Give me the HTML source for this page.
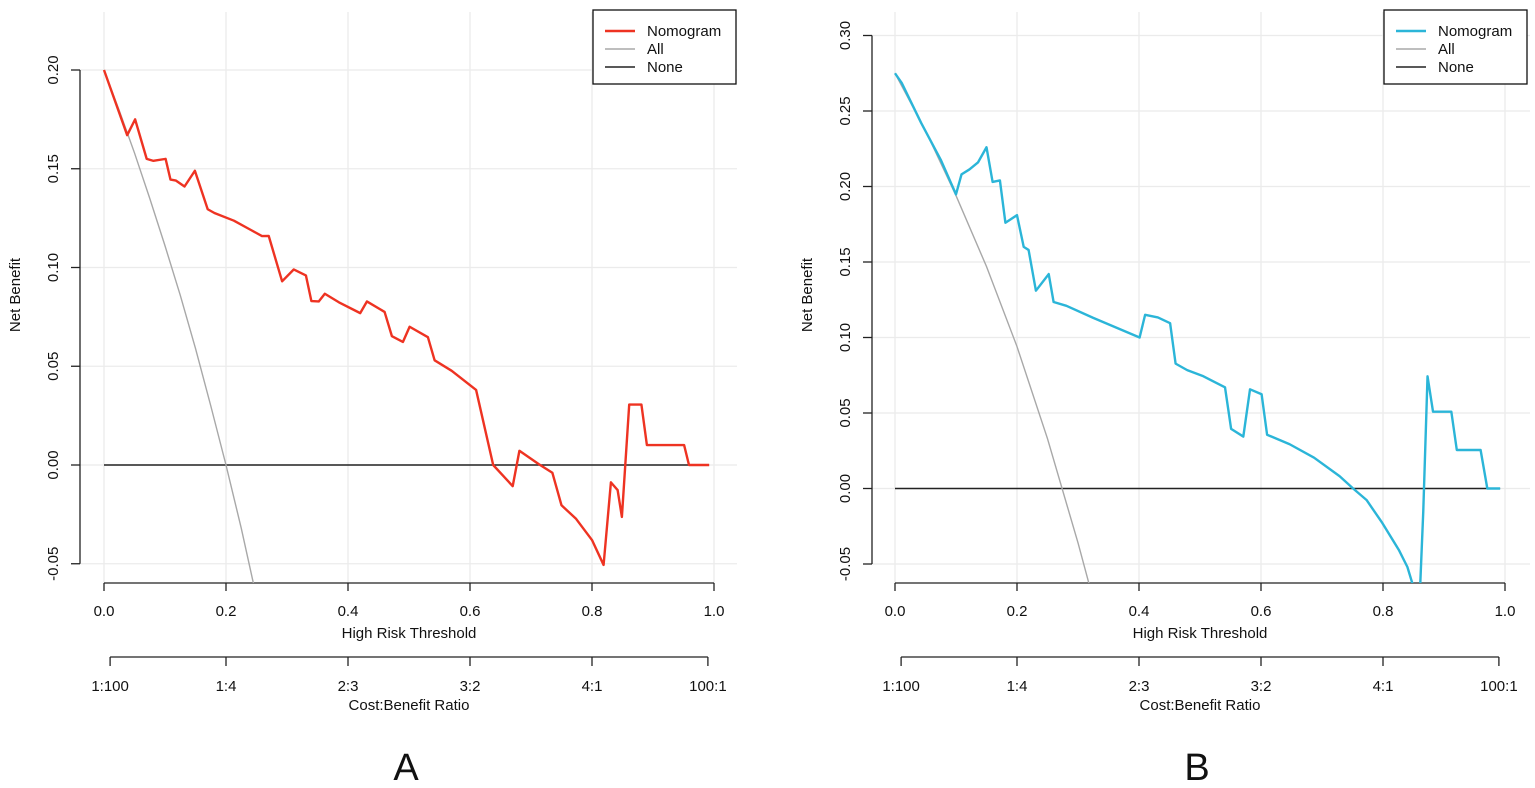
<!DOCTYPE html>
<html><head><meta charset="utf-8">
<style>
html,body{margin:0;padding:0;background:#fff;}
svg{display:block;font-family:"Liberation Sans",Arial,sans-serif;}
</style></head>
<body>
<svg id="chart" width="1535" height="788" viewBox="0 0 1535 788" xmlns="http://www.w3.org/2000/svg"></svg>
<script>
// ---------- Data ----------
const xTicks = [0, 0.2, 0.4, 0.6, 0.8, 1.0];
const xTickLabels = ["0.0", "0.2", "0.4", "0.6", "0.8", "1.0"];
const cbTicks = [0.01, 0.2, 0.4, 0.6, 0.8, 0.99];
const cbLabels = ["1:100", "1:4", "2:3", "3:2", "4:1", "100:1"];

const yTicksA = [-0.05, 0, 0.05, 0.10, 0.15, 0.20];
const yTickLabelsA = ["-0.05", "0.00", "0.05", "0.10", "0.15", "0.20"];
const yTicksB = [-0.05, 0, 0.05, 0.10, 0.15, 0.20, 0.25, 0.30];
const yTickLabelsB = ["-0.05", "0.00", "0.05", "0.10", "0.15", "0.20", "0.25", "0.30"];

const nomoThreshA = [0,0.038,0.051,0.07,0.081,0.101,0.109,0.118,0.132,0.149,0.170,0.181,0.213,0.242,0.259,0.27,0.292,0.311,0.331,0.340,0.352,0.362,0.385,0.420,0.431,0.460,0.472,0.490,0.501,0.531,0.542,0.570,0.610,0.638,0.670,0.681,0.713,0.735,0.75,0.774,0.80,0.819,0.831,0.842,0.849,0.861,0.881,0.890,0.951,0.959,0.992];
const nomoValA = [0.2,0.167,0.175,0.155,0.154,0.155,0.1445,0.144,0.141,0.149,0.1295,0.1276,0.1237,0.1188,0.1159,0.116,0.093,0.099,0.096,0.083,0.0828,0.0867,0.0824,0.0769,0.0828,0.0775,0.0652,0.0623,0.070,0.0647,0.053,0.0477,0.038,0,-0.0107,0.0072,0.0004,-0.0039,-0.0204,-0.0273,-0.038,-0.0506,-0.0088,-0.0127,-0.0263,0.0306,0.0306,0.0101,0.0101,0,0];
const allThreshA = [0,0.025,0.05,0.075,0.1,0.125,0.15,0.175,0.2,0.225,0.25];
const allValA = [0.2,0.1795,0.158,0.135,0.111,0.086,0.059,0.030,0,-0.032,-0.067];

const nomoThreshB = [0,0.011,0.043,0.075,0.1,0.109,0.122,0.136,0.150,0.160,0.172,0.181,0.2,0.211,0.219,0.231,0.252,0.260,0.281,0.325,0.401,0.410,0.431,0.451,0.46,0.479,0.504,0.541,0.551,0.571,0.582,0.601,0.61,0.647,0.687,0.729,0.751,0.773,0.799,0.826,0.84,0.849,0.861,0.866,0.873,0.882,0.912,0.921,0.96,0.971,0.992];
const nomoValB = [0.275,0.2686,0.242,0.2177,0.1948,0.208,0.2113,0.2159,0.226,0.203,0.204,0.176,0.181,0.160,0.158,0.131,0.142,0.1235,0.121,0.113,0.100,0.115,0.1133,0.1095,0.0827,0.0784,0.0746,0.067,0.0395,0.0344,0.0657,0.0624,0.0356,0.0293,0.0204,0.0081,0,-0.0076,-0.0229,-0.0407,-0.052,-0.064,-0.064,-0.0153,0.0743,0.0509,0.0509,0.0255,0.0255,0,0];
const allThreshB = [0,0.05,0.1,0.15,0.2,0.25,0.3,0.32];
const allValB = [0.275,0.237,0.194,0.147,0.094,0.033,-0.036,-0.066];

// ---------- Drawing ----------
const NS = "http://www.w3.org/2000/svg";
const svg = document.getElementById("chart");
function mk(tag, attrs, parent) {
  const e = document.createElementNS(NS, tag);
  for (const k in attrs) e.setAttribute(k, attrs[k]);
  (parent || svg).appendChild(e);
  return e;
}

function panel(cfg) {
  const g = mk("g", {});
  
  
  const X = t => cfg.x0 + t * cfg.xs;
  const Y = v => cfg.y0 - v * cfg.ys;
  const clipId = cfg.id + "-clip";
  const cp = mk("clipPath", {id: clipId}, g);
  mk("rect", {x: cfg.left, y: 20, width: cfg.right - cfg.left, height: 583 - 20}, cp);

  const grid = mk("g", {stroke: "#ebebeb", "stroke-width": 1.3}, g);
  
  
  xTicks.forEach(t => mk("line", {x1: X(t), x2: X(t), y1: 12, y2: 583}, grid));
  cfg.yTicks.forEach(v => mk("line", {x1: cfg.left, x2: cfg.right, y1: Y(v), y2: Y(v)}, grid));

  const xa = mk("g", {stroke: "#222", "stroke-width": 1.3, fill: "none"}, g);
  
  
  mk("line", {x1: X(0), x2: X(1), y1: 583, y2: 583}, xa);
  xTicks.forEach((t, i) => {
    mk("line", {x1: X(t), x2: X(t), y1: 583, y2: 591}, xa);
    const tx = mk("text", {x: X(t), y: 616, "text-anchor": "middle", "font-size": 15, fill: "#111", stroke: "none"}, g);
    tx.textContent = xTickLabels[i];
    
    
  });
  const xt = mk("text", {x: X(0.5), y: 638, "text-anchor": "middle", "font-size": 15, fill: "#111"}, g);
  xt.textContent = "High Risk Threshold";
  
  

  const ca = mk("g", {stroke: "#222", "stroke-width": 1.3}, g);
  
  
  mk("line", {x1: X(cbTicks[0]), x2: X(cbTicks[cbTicks.length-1]), y1: 657, y2: 657}, ca);
  cbTicks.forEach((t, i) => {
    mk("line", {x1: X(t), x2: X(t), y1: 657, y2: 666}, ca);
    const tx = mk("text", {x: X(t), y: 691, "text-anchor": "middle", "font-size": 15, fill: "#111", stroke: "none"}, g);
    tx.textContent = cbLabels[i];
    
    
  });
  const ct = mk("text", {x: X(0.5), y: 710, "text-anchor": "middle", "font-size": 15, fill: "#111"}, g);
  ct.textContent = "Cost:Benefit Ratio";
  
  

  const ya = mk("g", {stroke: "#222", "stroke-width": 1.3}, g);
  
  
  const yl = cfg.yTicks;
  mk("line", {x1: cfg.axX, x2: cfg.axX, y1: Y(yl[0]), y2: Y(yl[yl.length-1])}, ya);
  yl.forEach((v, i) => {
    mk("line", {x1: cfg.axX - 9, x2: cfg.axX, y1: Y(v), y2: Y(v)}, ya);
    const tx = mk("text", {x: 0, y: 0, transform: `translate(${cfg.axX - 22},${Y(v)}) rotate(-90)`, "text-anchor": "middle", "font-size": 15, fill: "#111", stroke: "none"}, g);
    tx.textContent = cfg.yTickLabels[i];
    
    
  });
  const yt = mk("text", {x: 0, y: 0, transform: `translate(${cfg.axX - 60},295) rotate(-90)`, "text-anchor": "middle", "font-size": 15, fill: "#111"}, g);
  yt.textContent = "Net Benefit";
  
  

  const series = mk("g", {"clip-path": `url(#${clipId})`, fill: "none"}, g);
  const none = mk("line", {x1: X(0), x2: X(0.992), y1: Y(0), y2: Y(0), stroke: "#222", "stroke-width": 1.6}, series);
  
  
  const pAll = mk("polyline", {points: cfg.allT.map((t, i) => X(t) + "," + Y(cfg.allV[i])).join(" "), stroke: "#a8a8a8", "stroke-width": 1.4}, series);
  
  
  const pN = mk("polyline", {points: cfg.nT.map((t, i) => X(t) + "," + Y(cfg.nV[i])).join(" "), stroke: cfg.color, "stroke-width": 2.4, "stroke-linejoin": "round"}, series);
  
  

  const lg = mk("g", {}, g);
  
  
  mk("rect", {x: cfg.legX, y: 10, width: 143, height: 74, fill: "#fff", stroke: "#111", "stroke-width": 1.3}, lg);
  const items = [["Nomogram", cfg.color, 2.4], ["All", "#a8a8a8", 1.4], ["None", "#222", 1.6]];
  items.forEach((it, i) => {
    const yy = 31 + i * 18;
    const e = mk("g", {}, lg);
    
    
    mk("line", {x1: cfg.legX + 12, x2: cfg.legX + 42, y1: yy, y2: yy, stroke: it[1], "stroke-width": it[2]}, e);
    const t = mk("text", {x: cfg.legX + 54, y: yy + 5, "font-size": 15, fill: "#111"}, e);
    t.textContent = it[0];
  });

  const pl = mk("text", {x: X(0.5) - 3, y: 780, "text-anchor": "middle", "font-size": 38, fill: "#111"}, g);
  pl.textContent = cfg.id === "panel-a" ? "A" : "B";
  
  
}

panel({id: "panel-a", x0: 104, xs: 610, y0: 465, ys: 1975, left: 80, right: 737, axX: 80,
  yTicks: yTicksA, yTickLabels: yTickLabelsA, nT: nomoThreshA, nV: nomoValA,
  allT: allThreshA, allV: allValA, color: "#ee3322", legX: 593});
panel({id: "panel-b", x0: 895, xs: 610, y0: 488.5, ys: 1510, left: 872, right: 1530, axX: 872,
  yTicks: yTicksB, yTickLabels: yTickLabelsB, nT: nomoThreshB, nV: nomoValB,
  allT: allThreshB, allV: allValB, color: "#2bb5d8", legX: 1384});
</script>
</body></html>
